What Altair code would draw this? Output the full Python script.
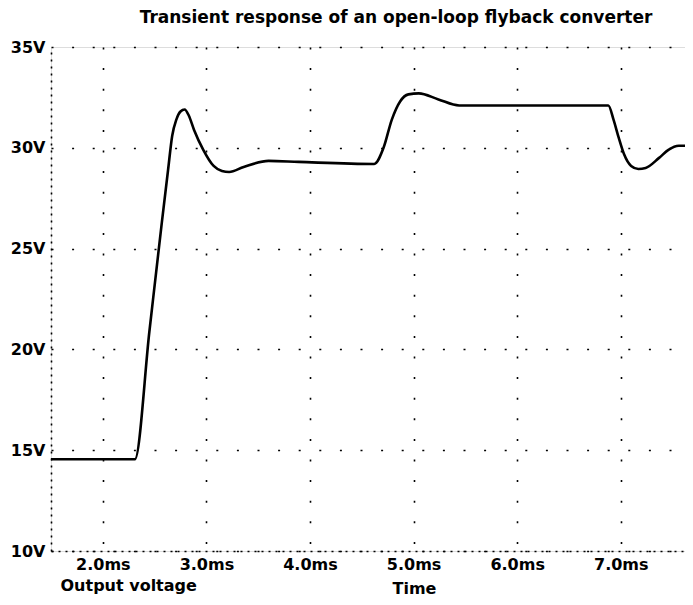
import altair as alt
import pandas as pd

# Time in ms, output voltage in V
time_ms = [1.50, 2.31, 2.45, 2.57, 2.63, 2.67, 2.71, 2.75, 2.79, 2.83, 2.88,
           2.97, 3.07, 3.15, 3.22, 3.36, 3.60, 3.89, 4.62, 4.71, 4.79, 4.87,
           4.95, 5.05, 5.24, 5.44, 6.88, 6.93, 6.98, 7.03, 7.10, 7.17, 7.24,
           7.37, 7.46, 7.56, 7.62]
voltage = [14.55, 14.55, 20.9, 26.3, 28.9, 30.6, 31.4, 31.8, 31.9, 31.6, 30.9,
           29.9, 29.1, 28.85, 28.8, 29.05, 29.35, 29.3, 29.2, 30.0, 31.4, 32.3,
           32.65, 32.7, 32.4, 32.1, 32.1, 31.4, 30.5, 29.7, 29.1, 28.95, 29.0,
           29.5, 29.9, 30.1, 30.1]

x_ticks = [2.0, 3.0, 4.0, 5.0, 6.0, 7.0]
y_ticks = [10, 15, 20, 25, 30, 35]

df = pd.DataFrame({"t": time_ms, "v": voltage})

FONT = "DejaVu Sans"

chart = alt.Chart(df).mark_line(
    color="black", strokeWidth=2.6, interpolate="monotone", clip=True
).encode(
    x=alt.X("t:Q",
            scale=alt.Scale(domain=[1.5, 7.62], nice=False, zero=False),
            axis=alt.Axis(
                values=x_ticks,
                labelExpr="format(datum.value, '.1f') + 'ms'",
                title="Time",
                titleX=363, titleY=37, titleAlign="center", titleBaseline="middle",
                titleFont=FONT, titleFontSize=16, titleFontWeight="bold",
                labelFont=FONT, labelFontSize=16, labelFontWeight="bold",
                labelColor="black", titleColor="black",
                labelPadding=5, ticks=False,
                domainColor="black", domainDash=[2, 5], domainWidth=1.6,
                gridColor="black", gridDash=[2, 18.6], gridWidth=1.6, gridOpacity=1,
            )),
    y=alt.Y("v:Q",
            scale=alt.Scale(domain=[10, 35], nice=False, zero=False),
            axis=alt.Axis(
                values=y_ticks,
                labelExpr="datum.value + 'V'",
                title="Output voltage",
                titleAngle=0, titleX=9, titleY=538, titleAlign="left",
                titleBaseline="middle",
                titleFont=FONT, titleFontSize=16, titleFontWeight="bold",
                labelFont=FONT, labelFontSize=16, labelFontWeight="bold",
                labelColor="black", titleColor="black",
                labelPadding=6, ticks=False,
                domainColor="black", domainDash=[2, 5], domainWidth=1.6,
                gridColor="black", gridDash=[2, 18.6], gridWidth=1.6, gridOpacity=1,
            )),
).properties(
    width=634,
    height=504,
    title=alt.TitleParams(
        "Transient response of an open-loop flyback converter",
        anchor="middle", dx=28, offset=12,
        font=FONT, fontSize=17, fontWeight="bold", color="black",
    ),
    autosize=alt.AutoSizeParams(type="none"),
    padding={"left": 43, "top": 39, "right": 0, "bottom": 46},
).configure_view(
    stroke=None
).configure(
    background="white"
)

chart.save("out.html", embed_options={"renderer": "svg", "actions": False})
